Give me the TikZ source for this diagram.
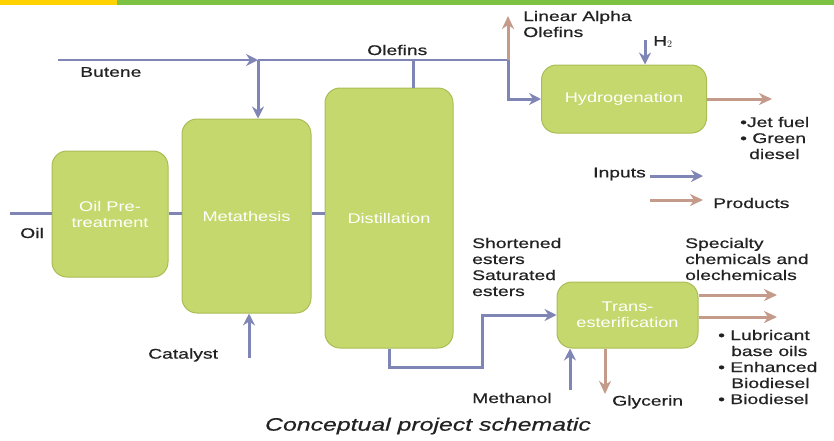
\documentclass[tikz,border=0pt]{standalone}
\usepackage{fontspec}
\setmainfont{Liberation Sans}[FakeStretch=1.38, FakeBold=0.6]
\newfontfamily\unitfont{Liberation Sans}[FakeStretch=1.3]
\usepackage{tikz}
\usetikzlibrary{arrows.meta}
\definecolor{boxfill}{HTML}{C5D86D}
\definecolor{boxline}{HTML}{AABD55}
\definecolor{inblue}{HTML}{7F86B5}
\definecolor{outbrown}{HTML}{C49A8A}
\definecolor{baryellow}{HTML}{FFD200}
\definecolor{bargreen}{HTML}{7DC242}
\definecolor{txt}{HTML}{222222}

\begin{document}
\begin{tikzpicture}[
  x=1pt, y=-1pt,
  every node/.style={font=\fontsize{14}{16}\selectfont, text=txt, inner sep=0pt},
  unit/.style={draw=boxline, line width=1pt, rounded corners=15pt, fill=boxfill, text=white, align=center,
    font=\unitfont\fontsize{14}{16}\selectfont},
  lbl/.style={anchor=west, align=left},
  inline/.style={draw=inblue, line width=3pt},
  inarr/.style={inline, -{Stealth[length=12pt, width=12pt, inset=4pt]}},
  outarr/.style={draw=outbrown, line width=3pt, -{Stealth[length=13pt, width=12pt, inset=4pt]}}]
  \useasboundingbox (0,0) rectangle (834,440);
  % header bar
  \fill[baryellow] (0,0) rectangle (117,5);
  \fill[bargreen] (117,0) rectangle (834,5);
  % process units
  \node[unit, minimum width=116pt, minimum height=126pt] (pre) at (110,214) {Oil Pre-\\treatment};
  \node[unit, minimum width=129pt, minimum height=194pt] (meta) at (246.5,216) {Metathesis};
  \node[unit, minimum width=128pt, minimum height=260pt] (dist) at (389,218) {Distillation};
  \node[unit, minimum width=165pt, minimum height=68pt] (hyd) at (624,99) {Hydrogenation};
  \node[unit, minimum width=141pt, minimum height=66pt] (trans) at (627.5,315) {Trans-\\esterification};
  % stream ends and bends
  \coordinate (bst) at (58,60);
  \coordinate (jmet) at (258,60);
  \coordinate (jol) at (413,60);
  \coordinate (jla) at (508,60);
  \coordinate (lao) at (508,16);
  \coordinate (h2) at (645,40);
  \coordinate (jet) at (772,99);
  \coordinate (oil) at (10,213);
  \coordinate (cat) at (249,358);
  \coordinate (ebend) at (482,367);
  \coordinate (meoh) at (570,390);
  \coordinate (gly) at (605,394);
  \coordinate (spc) at (777,295);
  \coordinate (lub) at (777,317);
  % top streams
  \draw[inarr, line width=2.2pt] (bst) -- (jmet);
  \draw[inline, line width=2.2pt] (jmet) -- (jla);
  \draw[inarr] (jmet) -- (meta.north -| jmet);
  \draw[inline] (dist.north -| jol) -- (jol);
  \draw[outarr] (jla) -- (lao);
  \draw[inarr] (jla) |- (hyd.west);
  \draw[inarr] (h2) -- (hyd.north -| h2);
  \draw[outarr] (hyd.east) -- (jet);
  % oil line
  \draw[inline] (oil) -- (pre.west |- oil);
  \draw[inline] (pre.east |- oil) -- (meta.west |- oil);
  \draw[inline] (meta.east |- oil) -- (dist.west |- oil);
  \draw[inarr] (cat) -- (meta.south -| cat);
  % esters to transesterification
  \draw[inarr] (dist.south) |- (ebend) |- (trans.west);
  \draw[inarr] (meoh) -- (trans.south -| meoh);
  \draw[outarr] (trans.south -| gly) -- (gly);
  \draw[outarr] (trans.east |- spc) -- (spc);
  \draw[outarr] (trans.east |- lub) -- (lub);
  % labels
  \node[lbl] (lbut) at (80,72) {Butene};
  \node[lbl] (loil) at (20,233) {Oil};
  \node[lbl] (lolef) at (367,50) {Olefins};
  \node[lbl] (llao) at (523,24) {Linear Alpha\\Olefins};
  \node[lbl] (lh2) at (653,42) {H$_2$};
  \node[lbl] (ljet) at (740,138) {\textbullet Jet fuel\\\textbullet\ Green\\\hspace*{9pt}diesel};
  \node[lbl] (lcat) at (148,355) {Catalyst};
  \node[lbl] (lest) at (472,267) {Shortened\\esters\\Saturated\\esters};
  \node[lbl] (lspc) at (685,259) {Specialty\\chemicals and\\olechemicals};
  \node[lbl] (lmeoh) at (472,398) {Methanol};
  \node[lbl] (lgly) at (612,402) {Glycerin};
  \node[lbl] (llub) at (718,367) {\textbullet\ Lubricant\\\hspace*{13pt}base oils\\\textbullet\ Enhanced\\\hspace*{13pt}Biodiesel\\\textbullet\ Biodiesel};
  % legend
  \node[anchor=east] (inp) at (646,174) {Inputs};
  \coordinate (inpst) at (650,176);
  \coordinate (inpend) at (703,176);
  \draw[inarr] (inpst) -- (inpend);
  \coordinate (prst) at (650,200);
  \coordinate (prend) at (703,200);
  \node[lbl] (prod) at (713,203) {Products};
  \draw[outarr] (prst) -- (prend);
  % caption
  \node[font=\fontsize{18}{20}\selectfont\itshape] (cap) at (428,426) {Conceptual project schematic};
\end{tikzpicture}
\end{document}
